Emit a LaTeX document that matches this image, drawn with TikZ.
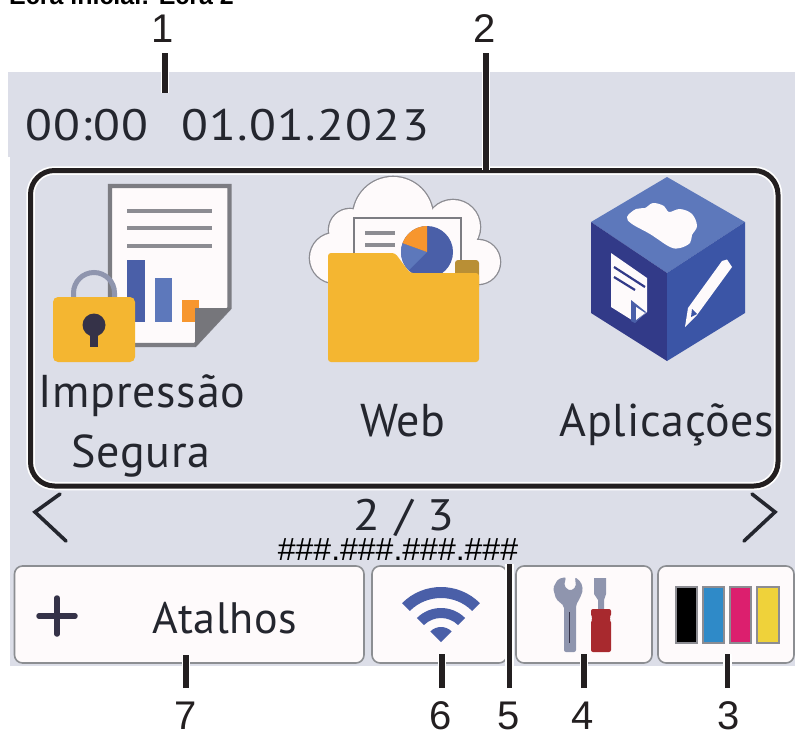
\documentclass[tikz,border=0pt]{standalone}
\usepackage{fontspec}
\setmainfont{Liberation Sans}
\newfontfamily\uifont[LetterSpace=1.5]{PT Sans}
\newfontfamily\uiwide[LetterSpace=3,FakeStretch=1.12]{PT Sans}
\usetikzlibrary{calc}
\definecolor{panel}{HTML}{DCDEE8}
\definecolor{paper}{HTML}{FEFAFB}
\definecolor{btnline}{HTML}{8C8E92}
\definecolor{inkdark}{HTML}{231F20}
\definecolor{uidark}{HTML}{24262E}
\definecolor{docgray}{HTML}{7C7C82}
\definecolor{linegray}{HTML}{8C8C92}
\definecolor{blueA}{HTML}{4A5FA8}
\definecolor{blueB}{HTML}{5D78BB}
\definecolor{orangeA}{HTML}{F7962E}
\definecolor{gold}{HTML}{F4B631}
\definecolor{goldd}{HTML}{B98F35}
\definecolor{lockgray}{HTML}{8F95AE}
\definecolor{keydark}{HTML}{353248}
\definecolor{cubeL}{HTML}{323A88}
\definecolor{cubeR}{HTML}{3B55A6}
\definecolor{redA}{HTML}{A8292E}
\definecolor{inkc}{HTML}{2F8AC8}
\definecolor{inkm}{HTML}{DC1F6E}
\definecolor{inky}{HTML}{EFD23A}
\tikzset{
  btn/.style={draw=btnline,line width=1.6pt,fill=paper,rounded corners=8pt},
  leader/.style={draw=inkdark,line width=5.5pt,preaction={draw=white,line width=8.5pt}},
  ui/.style={inner sep=0pt,text=uidark,font=\uifont\fontsize{46}{46}\selectfont},
  uiw/.style={inner sep=0pt,text=uidark,font=\uiwide\fontsize{44}{46}\selectfont},
  num/.style={inner sep=0pt,text=inkdark,font=\fontsize{40}{40}\selectfont},
  chev/.style={draw=uidark,line width=3.6pt,line cap=round,line join=miter},
  inkbar/.style={draw=linegray,line width=2.4pt},
  glyphline/.style={draw=linegray,line width=4.6pt},
}
\begin{document}
\begin{tikzpicture}[x=1pt,y=-1pt]
\useasboundingbox (0,0) rectangle (795,736);
% panel
\fill[panel] (8,72) rectangle (795,157);
\fill[panel] (10,157) rectangle (795,666);
% title (cut by the page edge)
\node[inner sep=0pt,anchor=base west,font=\bfseries\fontsize{25}{26}\selectfont,text=black] (title) at (9,5) {Ecrã inicial: Ecrã 2};
% date
\node[uiw,anchor=base west] (time) at (25,140) {00:00};
\node[uiw,anchor=base west] (date) at (181,140) {01.01.2023};
% widget frame
\draw[white,line width=8.5pt,rounded corners=24pt] (30.5,170.5) rectangle (778,486);
\draw[inkdark,line width=5pt,rounded corners=24pt] (30.5,170.5) rectangle (778,486);
% ---------- secure print icon
\fill[paper] (109,185) -- (230,185) -- (230,308) -- (195,346) -- (109,346) -- cycle;
\draw[docgray,line width=4.2pt,line join=miter] (110,186) -- (229.5,186) -- (229.5,308) -- (195,345) -- (110,345) -- cycle;
\foreach \yy in {211,228,246}{\draw[glyphline] (127,\yy) -- (212,\yy);}
\fill[blueA] (127,260) rectangle (145,322);
\fill[blueB] (155,278) rectangle (172,322);
\fill[orangeA] (182,300) rectangle (199,322);
\fill[docgray!95!black] (195,308) -- (231,308) -- (195,347) -- cycle;
\draw[lockgray,line width=5pt] (73.5,300) -- (73.5,293) arc[start angle=180,end angle=360,radius=20.5] -- (114.5,300);
\fill[gold,rounded corners=5pt] (53,297) rectangle (135,362);
\fill[keydark] (94,325) circle[radius=11.5];
\fill[keydark] (90,330) rectangle (98,347);
\node[ui,anchor=base] (impr) at (142,407) {Impressão};
\node[ui,anchor=base] (seg) at (141,467) {Segura};
% ---------- web icon
\foreach \c/\r in {{(393,217)/40},{(350,230)/21},{(335,258)/25},{(453,227)/27},{(478,262)/22}}{
  \draw[linegray,line width=2.6pt] \c circle[radius=\r];}
\foreach \c/\r in {{(393,217)/40},{(350,230)/21},{(335,258)/25},{(453,227)/27},{(478,262)/22}}{
  \fill[paper] \c circle[radius=\r];}
\fill[paper] (340,220) rectangle (470,285);
\fill[paper] (354,218) rectangle (461,300);
\draw[docgray,line width=2.6pt] (354,300) -- (354,218) -- (461,218) -- (461,300);
\draw[linegray,line width=4pt] (365,233) -- (395,233);
\draw[linegray,line width=4pt] (365,245) -- (395,245);
\fill[blueA] (427,252) circle[radius=26];
\fill[blueB] (427,252) -- ++(-160:26) arc[start angle=-160,end angle=-225,radius=26] -- cycle;
\fill[orangeA] (427,252) -- ++(-90:26) arc[start angle=-90,end angle=-160,radius=26] -- cycle;
\fill[goldd,rounded corners=3pt] (455,260) rectangle (479,290);
\fill[gold,rounded corners=3pt] (328,253) -- (395,253) -- (410,273) -- (479,273) -- (479,362) -- (328,362) -- cycle;
\node[ui,anchor=base] (web) at (403,436) {Web};
% ---------- apps cube
\fill[blueB] (667,177) -- (745,222) -- (667,273) -- (591,222) -- cycle;
\fill[cubeL] (591,222) -- (667,273) -- (667,361) -- (591,313) -- cycle;
\fill[cubeR] (667,273) -- (745,222) -- (745,313) -- (667,361) -- cycle;
\fill[paper] plot[smooth cycle,tension=0.6] coordinates {(627,217) (636,209) (645,208) (653,203) (664,206) (669,212) (680,209) (692,214) (697,226) (692,235) (690,243) (680,248) (670,247) (650,234) (632,224)};
\fill[paper] (611,253) -- (647,278) -- (647,312) -- (635,322) -- (611,307) -- cycle;
\draw[cubeL,line width=2.2pt] (614,267) -- (645,287);
\draw[cubeL,line width=2.2pt] (614,277) -- (635,290);
\fill[blueA] (631,300) -- (646,312) -- (635,323) -- (631,321) -- cycle;
\fill[paper] (636,307) -- (645,313) -- (636,320) -- cycle;
\fill[paper] (722,261) -- (727,259.5) -- (732,267) -- (697,315) -- (685,327) -- (688,308) -- cycle;
\fill[cubeR] (692,309) -- (697,314) -- (691,317) -- cycle;
\node[ui,anchor=base] (apps) at (667,436) {Aplicações};
% ---------- nav
\draw[chev] (60,494) -- (35,512) -- (66,541);
\draw[chev] (752,494) -- (775,512) -- (744,541);
\node[uiw,anchor=base] (page) at (404,530) {2 / 3};
\node[inner sep=0pt,anchor=base,font=\fontsize{32}{32}\selectfont,text=black] (ip) at (398,560) {\#\#\#.\#\#\#.\#\#\#.\#\#\#};
% ---------- buttons
\draw[btn] (14.5,566) rectangle (364,663);
\draw[btn] (372,566) rectangle (507,663);
\draw[btn] (516,566) rectangle (652,663);
\draw[btn] (658,566) rectangle (794,663);
\draw[keydark,line width=5.5pt,line cap=round] (39,616) -- (75,616);
\draw[keydark,line width=5.5pt,line cap=round] (57,598) -- (57,634);
\node[ui,anchor=base,font=\uifont\fontsize{44}{46}\selectfont] (short) at (225,633) {Atalhos};
% wifi
\fill[blueA] (441,642) ++(-45:55) arc[start angle=-45,end angle=-135,radius=55] -- ++(45:11) arc[start angle=-135,end angle=-45,radius=44] -- cycle;
\fill[blueA] (441,642) ++(-45:34) arc[start angle=-45,end angle=-135,radius=34] -- ++(45:10) arc[start angle=-135,end angle=-45,radius=24] -- cycle;
\fill[blueA] (441,642) -- ++(-45:15) arc[start angle=-45,end angle=-135,radius=15] -- cycle;
% tools
\fill[lockgray,rounded corners=2pt] (553,588) -- (558,579) -- (566,577) -- (564,586) -- (570,591) -- (576,587) -- (575,577) -- (581,582) -- (583,590) -- (580,598) -- (576,605) -- (576,652) -- (564,652) -- (564,606) -- (556,599) -- cycle;
\draw[keydark,line width=1.6pt] (569.5,612) -- (569.5,643);
\fill[lockgray] (594,578) -- (606,578) -- (606,594) -- (604,600) -- (604,610) -- (598,610) -- (598,600) -- (594,594) -- cycle;
\fill[redA,rounded corners=2pt] (591,609) -- (611,609) -- (611,616.5) -- (609,618.5) -- (611,620.5) -- (611,652) -- (591,652) -- (591,620.5) -- (593,618.5) -- (591,616.5) -- cycle;
% inks
\draw[inkbar,fill=black] (676,587) rectangle (697,643);
\draw[inkbar,fill=inkc] (703,587) rectangle (724,643);
\draw[inkbar,fill=inkm] (730,587) rectangle (751,643);
\draw[inkbar,fill=inky] (757,587) rectangle (779,643);
% ---------- callouts
\node[num,anchor=base] (n1) at (163,42) {1};
\node[num,anchor=base] (n2) at (485,42) {2};
\node[num,anchor=base] (n7) at (186,729) {7};
\node[num,anchor=base] (n6) at (441,729) {6};
\node[num,anchor=base] (n5) at (509,729) {5};
\node[num,anchor=base] (n4) at (583,729) {4};
\node[num,anchor=base] (n3) at (729,729) {3};
\coordinate (t1) at (165,93);
\coordinate (t2) at (486,170);
\coordinate (t7) at (186,655);
\coordinate (t6) at (442,654);
\coordinate (t5) at (509.5,564);
\coordinate (t4) at (584,654);
\coordinate (t3) at (727.5,654);
\path[leader] (165,53) -- (t1);
\path[leader] (486,53) -- (t2);
\path[leader] (186,688) -- (t7);
\path[leader] (442,688) -- (t6);
\path[leader] (509.5,688) -- (t5);
\path[leader] (584,688) -- (t4);
\path[leader] (727.5,688) -- (t3);
\end{tikzpicture}
\end{document}
